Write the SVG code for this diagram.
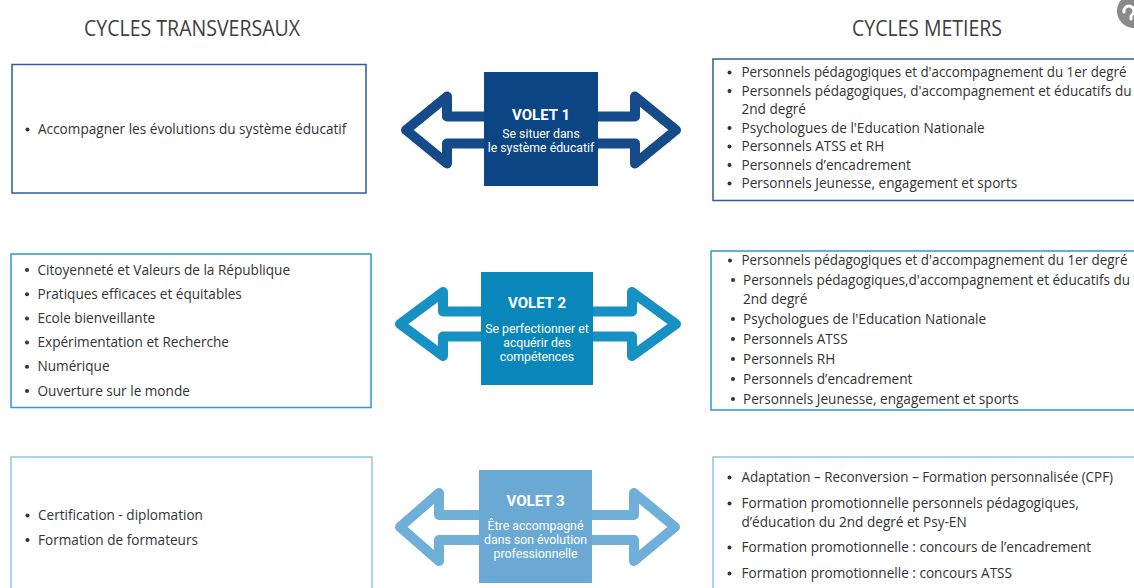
<svg xmlns="http://www.w3.org/2000/svg" width="1134" height="588" viewBox="0 0 1134 588">
<style>
.hd{font-family:"Open Sans","Noto Sans",sans-serif;font-size:21px;fill:#404040;text-anchor:middle}
.li{font-family:"Open Sans","Noto Sans",sans-serif;font-size:13.6px;fill:#333}
.bu{fill:#333}
.vt{font-family:Roboto,"Liberation Sans",sans-serif;font-size:15px;font-weight:bold;fill:#fff;text-anchor:middle}
.vs{font-family:Roboto,"Liberation Sans",sans-serif;font-size:12.3px;fill:#fff;text-anchor:middle}
.b1{fill:#fff;stroke:#2c5e9d;stroke-width:1.5}
.b2{fill:#fff;stroke:#2b9bd0;stroke-width:1.5}
.b3{fill:#fff;stroke:#93c3e4;stroke-width:1.5}
.ar{fill:none;stroke-width:10;stroke-linejoin:round}
</style>
<rect width="1134" height="588" fill="#fff"/>

<g id="headers">
<text class="hd" x="192" y="35.5" textLength="216" lengthAdjust="spacingAndGlyphs">CYCLES TRANSVERSAUX</text>
<text class="hd" x="927" y="35.5" textLength="150" lengthAdjust="spacingAndGlyphs">CYCLES METIERS</text>
</g>

<g id="help-icon">
<circle cx="1134" cy="11" r="17" fill="#8a8a8a"/>
<path d="M1124,12 a5,5 0 1 1 9,2 l-2,2 v3" fill="none" stroke="#fff" stroke-width="3" stroke-linecap="round"/>
</g>

<g id="connectors">
<path class="ar" stroke="#164b8a" d="M484,116.5 L447,116.5 L447,96.5 L406,130 L447,163.5 L447,143.5 L484,143.5"/>
<path class="ar" stroke="#164b8a" d="M598,116.5 L635,116.5 L635,96.5 L676,130 L635,163.5 L635,143.5 L598,143.5"/>
<path class="ar" stroke="#1790c3" d="M481,311.5 L443,311.5 L443,292 L400,324 L443,356 L443,336.5 L481,336.5"/>
<path class="ar" stroke="#1790c3" d="M593,311.5 L632,311.5 L632,292 L676,324 L632,356 L632,336.5 L593,336.5"/>
<path class="ar" stroke="#70afd7" d="M479,515 L439,515 L439,493 L400,527 L439,561 L439,540 L479,540"/>
<path class="ar" stroke="#70afd7" d="M592,515 L634,515 L634,493 L675,527 L634,561 L634,540 L592,540"/>
</g>

<g id="left-1">
<rect class="b1" x="12" y="64.5" width="354" height="128.5"/>
<circle class="bu" cx="27.5" cy="129.5" r="2"/>
<text class="li" x="38" y="134">Accompagner les évolutions du système éducatif</text>
</g>

<g id="left-2">
<rect class="b2" x="11" y="254" width="360" height="153.5"/>
<circle class="bu" cx="27" cy="270" r="2"/>
<text class="li" x="37.5" y="274.5">Citoyenneté et Valeurs de la République</text>
<circle class="bu" cx="27" cy="294.2" r="2"/>
<text class="li" x="37.5" y="298.7">Pratiques efficaces et équitables</text>
<circle class="bu" cx="27" cy="318.4" r="2"/>
<text class="li" x="37.5" y="322.9">Ecole bienveillante</text>
<circle class="bu" cx="27" cy="342.6" r="2"/>
<text class="li" x="37.5" y="347.1">Expérimentation et Recherche</text>
<circle class="bu" cx="27" cy="366.8" r="2"/>
<text class="li" x="37.5" y="371.3">Numérique</text>
<circle class="bu" cx="27" cy="391" r="2"/>
<text class="li" x="37.5" y="395.5">Ouverture sur le monde</text>
</g>

<g id="left-3">
<rect class="b3" x="11" y="457" width="361" height="140"/>
<circle class="bu" cx="27.5" cy="515.5" r="2"/>
<text class="li" x="38" y="520">Certification - diplomation</text>
<circle class="bu" cx="27.5" cy="540" r="2"/>
<text class="li" x="38" y="544.5">Formation de formateurs</text>
</g>

<g id="volet-1">
<rect x="484" y="72" width="114" height="114" fill="#0c4584"/>
<text class="vt" x="541" y="120">VOLET 1</text>
<text class="vs" x="541" y="137.5">Se situer dans</text>
<text class="vs" x="541" y="152">le système éducatif</text>
</g>

<g id="volet-2">
<rect x="481" y="272" width="112" height="113" fill="#0a87ba"/>
<text class="vt" x="537" y="307.5">VOLET 2</text>
<text class="vs" x="537" y="333">Se perfectionner et</text>
<text class="vs" x="537" y="347">acquérir des</text>
<text class="vs" x="537" y="361">compétences</text>
</g>

<g id="volet-3">
<rect x="479" y="470" width="113" height="113" fill="#6aa9d3"/>
<text class="vt" x="535.5" y="505.5">VOLET 3</text>
<text class="vs" x="535.5" y="530">Être accompagné</text>
<text class="vs" x="535.5" y="544">dans son évolution</text>
<text class="vs" x="535.5" y="558">professionnelle</text>
</g>

<g id="right-1">
<rect class="b1" x="713" y="59" width="430" height="141.5"/>
<circle class="bu" cx="729.5" cy="72.5" r="2"/>
<text class="li" x="741.5" y="77" textLength="385" lengthAdjust="spacingAndGlyphs">Personnels pédagogiques et d'accompagnement du 1er degré</text>
<circle class="bu" cx="729.5" cy="91" r="2"/>
<text class="li" x="741.5" y="95.5" textLength="390" lengthAdjust="spacingAndGlyphs">Personnels pédagogiques, d'accompagnement et éducatifs du</text>
<text class="li" x="741.5" y="114">2nd degré</text>
<circle class="bu" cx="729.5" cy="128" r="2"/>
<text class="li" x="741.5" y="132.5">Psychologues de l'Education Nationale</text>
<circle class="bu" cx="729.5" cy="146.5" r="2"/>
<text class="li" x="741.5" y="151">Personnels ATSS et RH</text>
<circle class="bu" cx="729.5" cy="165" r="2"/>
<text class="li" x="741.5" y="169.5">Personnels d’encadrement</text>
<circle class="bu" cx="729.5" cy="183.5" r="2"/>
<text class="li" x="741.5" y="188">Personnels Jeunesse, engagement et sports</text>
</g>

<g id="right-2">
<rect class="b2" x="711" y="251" width="432" height="159"/>
<circle class="bu" cx="730" cy="260.5" r="2"/>
<text class="li" x="741.5" y="265" textLength="386" lengthAdjust="spacingAndGlyphs">Personnels pédagogiques et d'accompagnement du 1er degré</text>
<circle class="bu" cx="733" cy="280" r="2"/>
<text class="li" x="743" y="284.5" textLength="387" lengthAdjust="spacingAndGlyphs">Personnels pédagogiques,d'accompagnement et éducatifs du</text>
<text class="li" x="743" y="304">2nd degré</text>
<circle class="bu" cx="733" cy="319" r="2"/>
<text class="li" x="743" y="323.5">Psychologues de l'Education Nationale</text>
<circle class="bu" cx="733" cy="339" r="2"/>
<text class="li" x="743" y="343.5">Personnels ATSS</text>
<circle class="bu" cx="733" cy="359" r="2"/>
<text class="li" x="743" y="363.5">Personnels RH</text>
<circle class="bu" cx="733" cy="379" r="2"/>
<text class="li" x="743" y="383.5">Personnels d’encadrement</text>
<circle class="bu" cx="733" cy="399" r="2"/>
<text class="li" x="743" y="403.5">Personnels Jeunesse, engagement et sports</text>
</g>

<g id="right-3">
<rect class="b3" x="713" y="457" width="430" height="140"/>
<circle class="bu" cx="729.5" cy="477.5" r="2"/>
<text class="li" x="741.5" y="482" textLength="371.5" lengthAdjust="spacingAndGlyphs">Adaptation – Reconversion – Formation personnalisée (CPF)</text>
<circle class="bu" cx="729.5" cy="503.5" r="2"/>
<text class="li" x="741.5" y="508">Formation promotionnelle personnels pédagogiques,</text>
<text class="li" x="741.5" y="526.5">d’éducation du 2nd degré et Psy-EN</text>
<circle class="bu" cx="729.5" cy="547.5" r="2"/>
<text class="li" x="741.5" y="552">Formation promotionnelle : concours de l’encadrement</text>
<circle class="bu" cx="729.5" cy="573.5" r="2"/>
<text class="li" x="741.5" y="578">Formation promotionnelle : concours ATSS</text>
</g>
</svg>
